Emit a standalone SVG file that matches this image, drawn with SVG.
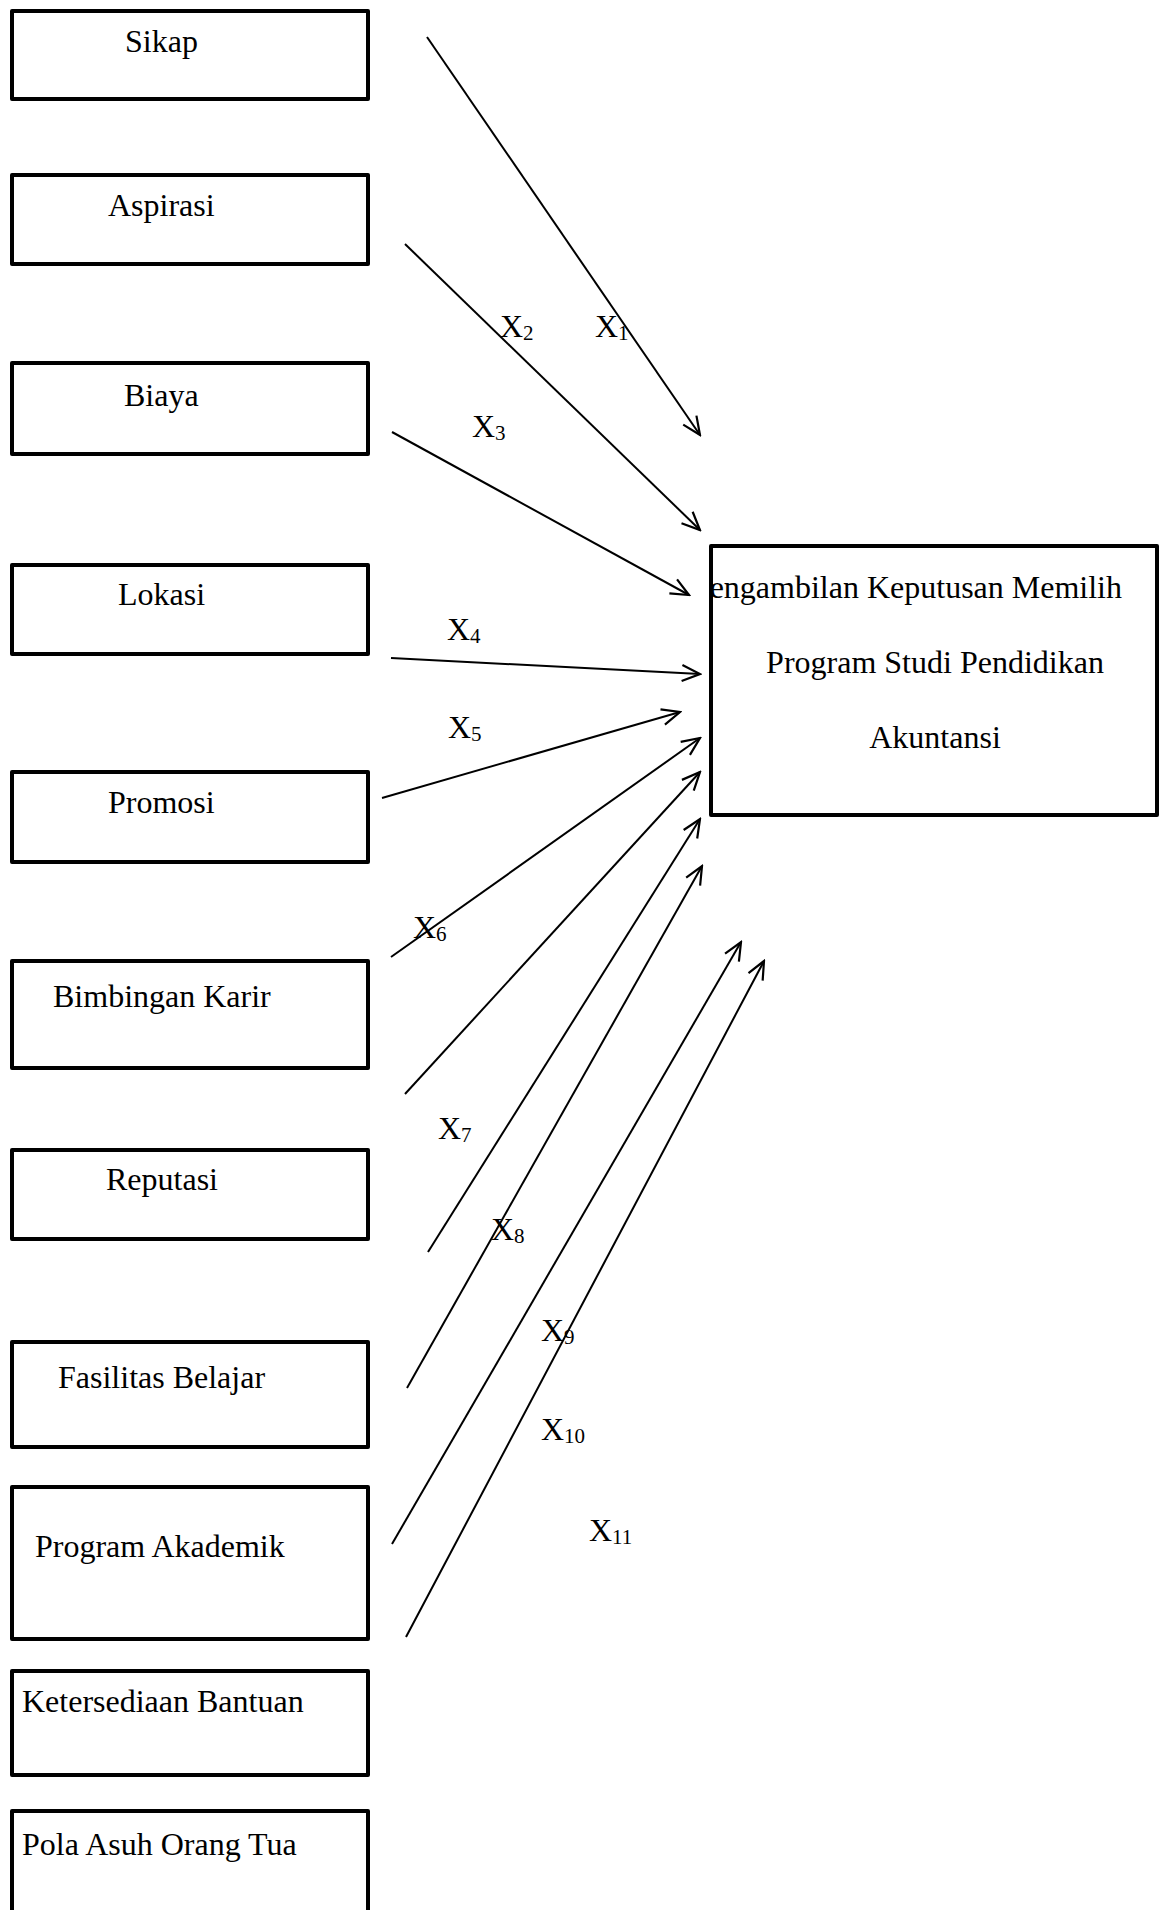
<svg xmlns="http://www.w3.org/2000/svg" width="1159" height="1910" viewBox="0 0 1159 1910">
<style>
.box{fill:#fff;stroke:#000;stroke-width:4;stroke-linejoin:round}
.t{font-family:"Liberation Serif","Times New Roman",serif;font-size:32px;fill:#000}
.lbl{font-family:"Liberation Serif","Times New Roman",serif;font-size:32px;fill:#000}
.sub{font-size:21px}
.arr{stroke:#000;stroke-width:2;fill:none;marker-end:url(#ah)}
</style>
<defs>
<marker id="ah" viewBox="0 0 22 22" refX="20" refY="11" markerWidth="22" markerHeight="22" markerUnits="userSpaceOnUse" orient="auto">
<path d="M2,3 L20,11 L2,19" fill="none" stroke="#000" stroke-width="2.2"/>
</marker>
</defs>
<rect x="0" y="0" width="1159" height="1910" fill="#fff"/>
<g id="connectors">
<line class="arr" x1="427" y1="37" x2="700" y2="435"/>
<line class="arr" x1="405" y1="244" x2="700" y2="530"/>
<line class="arr" x1="392" y1="432" x2="689" y2="595"/>
<line class="arr" x1="391" y1="658" x2="700" y2="674"/>
<line class="arr" x1="382" y1="798" x2="680" y2="712"/>
<line class="arr" x1="391" y1="957" x2="700" y2="738"/>
<line class="arr" x1="405" y1="1094" x2="700" y2="772"/>
<line class="arr" x1="428" y1="1252" x2="700" y2="819"/>
<line class="arr" x1="407" y1="1388" x2="702" y2="866"/>
<line class="arr" x1="392" y1="1544" x2="741" y2="942"/>
<line class="arr" x1="406" y1="1637" x2="764" y2="961"/>
</g>
<g id="labels">
<text class="lbl" x="595" y="337">X<tspan class="sub" dy="3">1</tspan></text>
<text class="lbl" x="500" y="337">X<tspan class="sub" dy="3">2</tspan></text>
<text class="lbl" x="472" y="437">X<tspan class="sub" dy="3">3</tspan></text>
<text class="lbl" x="447" y="640">X<tspan class="sub" dy="3">4</tspan></text>
<text class="lbl" x="448" y="738">X<tspan class="sub" dy="3">5</tspan></text>
<text class="lbl" x="413" y="938">X<tspan class="sub" dy="3">6</tspan></text>
<text class="lbl" x="438" y="1139">X<tspan class="sub" dy="3">7</tspan></text>
<text class="lbl" x="491" y="1240">X<tspan class="sub" dy="3">8</tspan></text>
<text class="lbl" x="541" y="1341">X<tspan class="sub" dy="3">9</tspan></text>
<text class="lbl" x="541" y="1440">X<tspan class="sub" dy="3">10</tspan></text>
<text class="lbl" x="589" y="1541">X<tspan class="sub" dy="3">11</tspan></text>
</g>
<g id="sikap"><rect class="box" x="12" y="11" width="356" height="88"/><text class="t" x="125" y="52">Sikap</text></g>
<g id="aspirasi"><rect class="box" x="12" y="175" width="356" height="89"/><text class="t" x="108" y="216">Aspirasi</text></g>
<g id="biaya"><rect class="box" x="12" y="363" width="356" height="91"/><text class="t" x="124" y="406">Biaya</text></g>
<g id="lokasi"><rect class="box" x="12" y="565" width="356" height="89"/><text class="t" x="118" y="605">Lokasi</text></g>
<g id="promosi"><rect class="box" x="12" y="772" width="356" height="90"/><text class="t" x="108" y="813">Promosi</text></g>
<g id="bimbingan"><rect class="box" x="12" y="961" width="356" height="107"/><text class="t" x="53" y="1007">Bimbingan Karir</text></g>
<g id="reputasi"><rect class="box" x="12" y="1150" width="356" height="89"/><text class="t" x="106" y="1190">Reputasi</text></g>
<g id="fasilitas"><rect class="box" x="12" y="1342" width="356" height="105"/><text class="t" x="58" y="1388">Fasilitas Belajar</text></g>
<g id="akademik"><rect class="box" x="12" y="1487" width="356" height="152"/><text class="t" x="35" y="1557">Program Akademik</text></g>
<g id="bantuan"><rect class="box" x="12" y="1671" width="356" height="104"/><text class="t" x="22" y="1712">Ketersediaan Bantuan</text></g>
<g id="polaasuh"><rect class="box" x="12" y="1811" width="356" height="130"/><text class="t" x="22" y="1855">Pola Asuh Orang Tua</text></g>
<g id="keputusan"><rect class="box" x="711" y="546" width="446" height="269"/>
<text class="t" x="1122" y="598" text-anchor="end">engambilan Keputusan Memilih</text>
<text class="t" x="935" y="673" text-anchor="middle">Program Studi Pendidikan</text>
<text class="t" x="935" y="748" text-anchor="middle">Akuntansi</text></g>
</svg>
